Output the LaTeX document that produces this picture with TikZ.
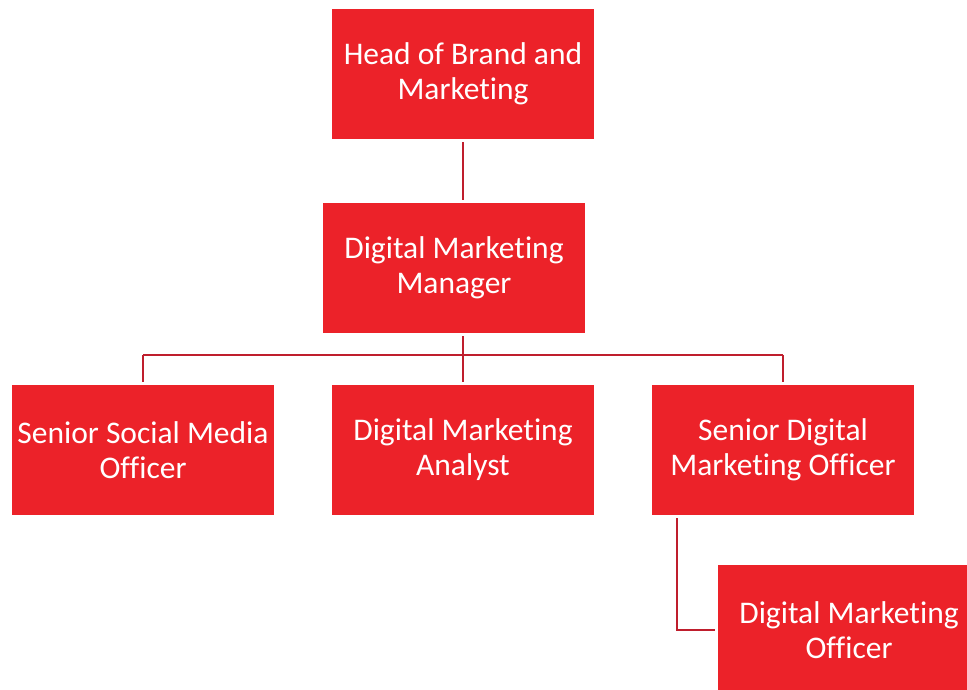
\documentclass[tikz,border=0pt]{standalone}
\usepackage{fontspec}
\setmainfont[Ligatures={NoCommon}]{Carlito}
\begin{document}
\definecolor{boxred}{HTML}{EC2229}
\definecolor{linkred}{HTML}{BF1E2D}
\begin{tikzpicture}[x=1pt,y=-1pt,
  rolebox/.style={fill=boxred, draw=none, minimum width=262pt, minimum height=130pt,
    inner sep=0pt, align=center, text=white,
    font=\fontsize{31.5}{35}\selectfont},
  link/.style={draw=linkred, line width=2.6pt}]
\useasboundingbox (0,0) rectangle (967,690);
\node[rolebox] (head) at (463,74) {Head of Brand and\\Marketing};
\node[rolebox] (mgr) at (454,268) {Digital Marketing\\Manager};
\node[rolebox] (social) at (143,450) {Senior Social Media\\Officer};
\node[rolebox] (analyst) at (463,450) {Digital Marketing\\Analyst};
\node[rolebox] (senior) at (783,450) {Senior Digital\\Marketing Officer};
\node[rolebox] (officer) at (849,630) {Digital Marketing\\Officer};
% reporting lines, each kept 3pt clear of the boxes
\coordinate (bus) at (463,355);
\draw[link] ([yshift=-3pt]head.south) -- ([yshift=3pt]head.south |- mgr.north);
\draw[link] ([yshift=-3pt]head.south |- mgr.south) -- (bus);
\draw[link] (social.north |- bus) -- (senior.north |- bus);
\draw[link] (social.north |- bus) -- ([yshift=3pt]social.north);
\draw[link] (bus) -- ([yshift=3pt]analyst.north);
\draw[link] (senior.north |- bus) -- ([yshift=3pt]senior.north);
\draw[link] ([xshift=-106pt,yshift=-3pt]senior.south) |- ([xshift=-3pt]officer.west);
\end{tikzpicture}
\end{document}
